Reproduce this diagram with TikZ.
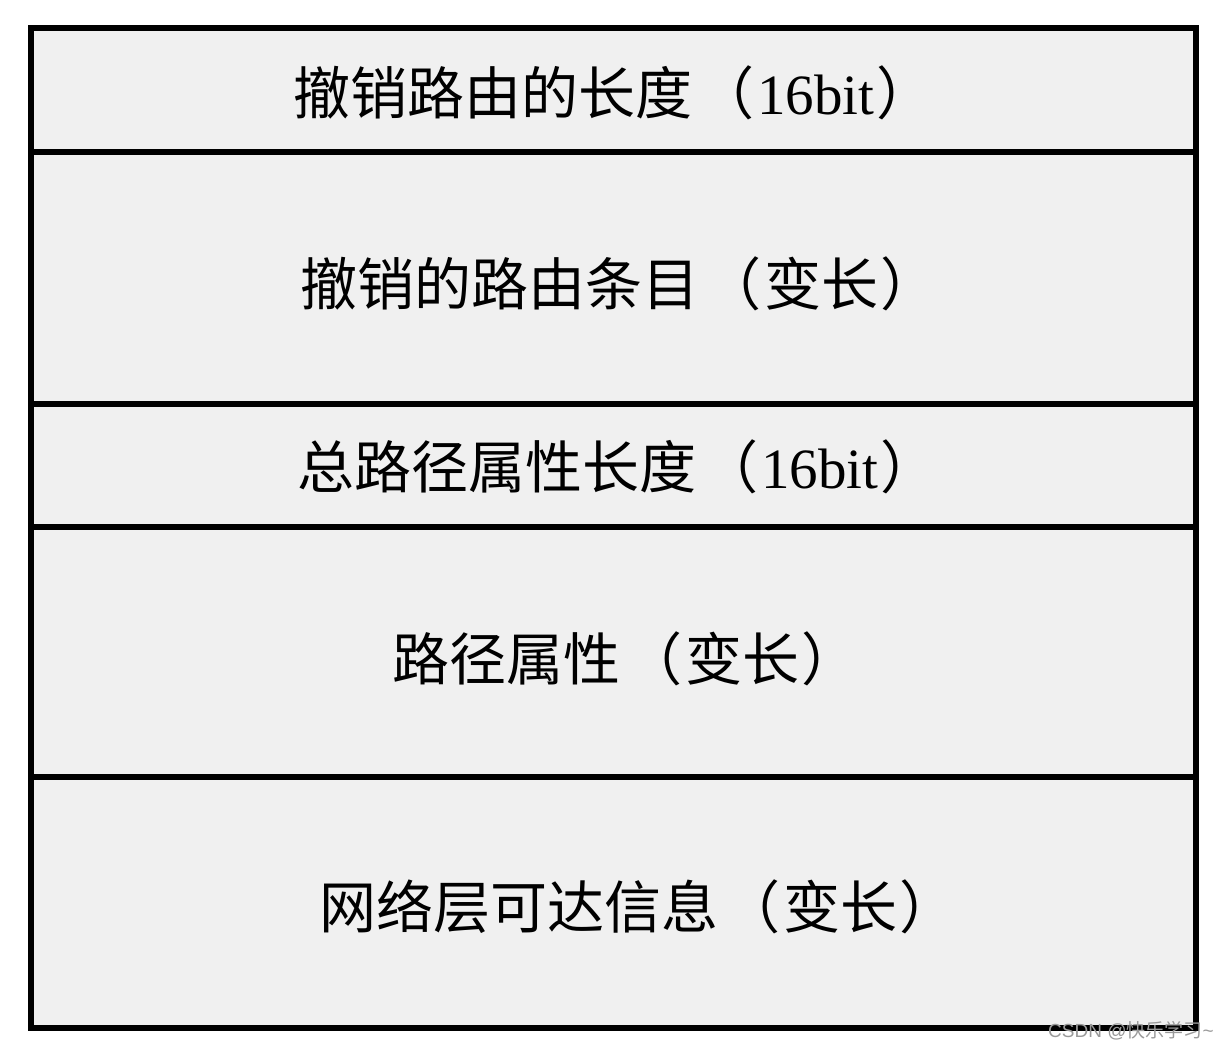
\documentclass[tikz,border=0pt]{standalone}
\usepackage{fontspec}
\setmainfont{Liberation Serif}
\newfontfamily\cjk{Noto Sans CJK SC}
\newfontfamily\wmsans{Liberation Sans}
\definecolor{cellfill}{HTML}{F0F0F0}
\definecolor{wmgray}{HTML}{9A9A9A}
\newcommand{\lpar}{\hspace{5pt}{\cjk （}\hspace{3pt}}
\newcommand{\rpar}{\hspace{2pt}{\cjk ）}}
\begin{document}
\begin{tikzpicture}[x=1pt,y=1pt,
  rowbox/.style={draw=black, line width=6pt, fill=cellfill, rectangle, minimum width=1165pt, inner sep=0pt, outer sep=0pt},
  rowtext/.style={anchor=base west, inner sep=0pt, font=\fontsize{57}{60}\selectfont},
  wm/.style={anchor=base west, inner sep=0pt, text=wmgray, font=\fontsize{19}{21}\selectfont}]
\useasboundingbox (0,0) rectangle (1232,1052);
\fill[white] (0,0) rectangle (1232,1052);
% rows (y measured from bottom: 1052 - image y)
\node[rowbox, minimum height=124pt] (r1) at (613.5,962) {};
\node[rowbox, minimum height=252pt] (r2) at (613.5,774) {};
\node[rowbox, minimum height=123pt] (r3) at (613.5,586.5) {};
\node[rowbox, minimum height=250pt] (r4) at (613.5,400) {};
\node[rowbox, minimum height=251pt] (r5) at (613.5,149.5) {};
% labels
\node[rowtext] (t1) at (293,937) {{\cjk 撤销路由的长度}\lpar 16bit\rpar};
\node[rowtext] (t2) at (300,746) {{\cjk 撤销的路由条目}\lpar{\cjk 变长}\rpar};
\node[rowtext] (t3) at (297,563) {{\cjk 总路径属性长度}\lpar 16bit\rpar};
\node[rowtext] (t4) at (392,371) {{\cjk 路径属性}\lpar{\cjk 变长}\rpar};
\node[rowtext] (t5) at (319,123) {{\cjk 网络层可达信息}\lpar{\cjk 变长}\rpar};
% watermark
\node[wm] (wmk) at (1048,14) {{\wmsans CSDN @}{\cjk 快乐学习}{\wmsans \textasciitilde}};
\end{tikzpicture}
\end{document}
